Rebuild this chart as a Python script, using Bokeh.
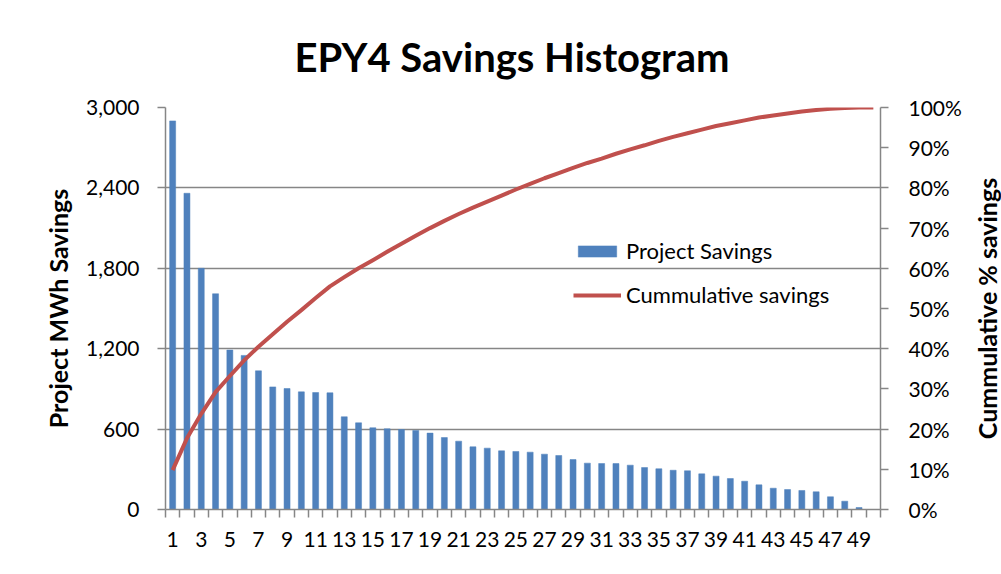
import math
from bokeh.plotting import figure
from bokeh.layouts import row
from bokeh.models import (Range1d, LinearAxis, FixedTicker, NumeralTickFormatter,
                          PrintfTickFormatter, Legend, LegendItem, ColumnDataSource)
from bokeh.core.properties import value
from bokeh.embed import file_html
from bokeh.resources import INLINE

# ---- data ----
projects = list(range(1, 51))
savings = [2900, 2360, 1800, 1610, 1190, 1150, 1035, 915, 903, 878,
           873, 871, 692, 647, 610, 602, 597, 590, 570, 537,
           510, 468, 458, 438, 433, 428, 413, 403, 373, 346,
           343, 343, 331, 313, 304, 293, 289, 266, 249, 231,
           211, 184, 159, 149, 142, 132, 95, 62, 15, 0]
cumulative_pct = [9.8, 17.7, 23.8, 29.2, 33.2, 37.1, 40.5, 43.6, 46.7, 49.6,
                  52.6, 55.5, 57.8, 60.0, 62.0, 64.1, 66.1, 68.1, 70.0, 71.8,
                  73.5, 75.1, 76.6, 78.1, 79.6, 81.0, 82.4, 83.7, 85.0, 86.2,
                  87.3, 88.5, 89.6, 90.6, 91.7, 92.7, 93.6, 94.5, 95.4, 96.1,
                  96.8, 97.5, 98.0, 98.5, 99.0, 99.4, 99.7, 99.9, 100.0, 100.0]
left_ticks = [0, 600, 1200, 1800, 2400, 3000]
right_ticks = [0, 10, 20, 30, 40, 50, 60, 70, 80, 90, 100]
x_tick_labels = list(range(1, 50, 2))
right_axis_title = "Cummulative % savings"

FONT = "Lato"
GRID = "#868686"

src = ColumnDataSource(dict(project=projects, savings=savings, cum=cumulative_pct))
pct_range = Range1d(0, 100)

p = figure(width=971, height=566, output_backend="svg", toolbar_location=None,
           x_range=Range1d(0.5, 50.5), y_range=Range1d(0, 3000),
           min_border_left=165, min_border_right=91, min_border_top=107,
           min_border_bottom=57)
p.extra_y_ranges = {"pct": pct_range}
p.outline_line_color = None
p.background_fill_color = "white"
p.border_fill_color = "white"

p.title.text = "EPY4 Savings Histogram"
p.title.align = "left"
p.title.offset = 129
p.title.text_font = FONT
p.title.text_font_size = "40px"
p.title.text_font_style = "bold"
p.title.text_color = "black"
p.title.standoff = 54

# grid
p.xgrid.visible = False
p.ygrid.ticker = FixedTicker(ticks=left_ticks)
p.ygrid.grid_line_color = GRID
p.ygrid.grid_line_width = 1.5

# left axis
ya = p.yaxis[0]
ya.ticker = FixedTicker(ticks=left_ticks)
ya.formatter = NumeralTickFormatter(format="0,0")
ya.axis_label = "Project MWh Savings"
ya.axis_label_text_font = FONT
ya.axis_label_text_font_style = "bold"
ya.axis_label_text_font_size = "25px"
ya.axis_label_text_color = "black"
ya.axis_label_standoff = 10
ya.major_label_text_font = FONT
ya.major_label_text_font_size = "21px"
ya.major_label_text_color = "black"
ya.major_label_standoff = 18
ya.axis_line_color = GRID
ya.axis_line_width = 1.5
ya.major_tick_line_color = GRID
ya.major_tick_line_width = 1.5
ya.major_tick_out = 8
ya.major_tick_in = 0
ya.minor_tick_line_color = None

# right axis
ra = LinearAxis(y_range_name="pct", ticker=FixedTicker(ticks=right_ticks),
                formatter=PrintfTickFormatter(format="%d%%"))
ra.major_label_text_font = FONT
ra.major_label_text_font_size = "21px"
ra.major_label_text_color = "black"
ra.major_label_standoff = 20
ra.axis_line_color = GRID
ra.axis_line_width = 1.5
ra.major_tick_line_color = GRID
ra.major_tick_line_width = 1.5
ra.major_tick_out = 8
ra.major_tick_in = 0
ra.minor_tick_line_color = None
p.add_layout(ra, "right")

# x axis
xa = p.xaxis[0]
xa.ticker = FixedTicker(ticks=x_tick_labels, minor_ticks=[i + 0.5 for i in range(0, 51)])
xa.major_label_text_font = FONT
xa.major_label_text_font_size = "21px"
xa.major_label_text_color = "black"
xa.major_label_standoff = 14
xa.major_tick_line_color = None
xa.major_tick_out = 8
xa.major_tick_in = 0
xa.minor_tick_line_color = GRID
xa.minor_tick_line_width = 1.5
xa.minor_tick_out = 8
xa.minor_tick_in = 0
xa.axis_line_color = GRID
xa.axis_line_width = 1.5

bars = p.vbar(x="project", top="savings", width=0.42, source=src,
              fill_color="#4F81BD", line_color="#4F81BD", line_width=0.5)
line = p.line(x="project", y="cum", source=src, y_range_name="pct",
              line_color="#C0504D", line_width=4, line_join="round")

legend = Legend(items=[LegendItem(label="Project Savings", renderers=[bars]),
                       LegendItem(label="Cummulative savings", renderers=[line])],
                location=(408, 201))
legend.border_line_color = None
legend.background_fill_alpha = 0
legend.label_text_font = FONT
legend.label_text_font_size = "22px"
legend.label_text_color = "black"
legend.glyph_width = 48
legend.glyph_height = 14
legend.label_height = 22
legend.label_standoff = 5
legend.spacing = 17
legend.padding = 0
legend.margin = 0
p.add_layout(legend)

# narrow companion figure holding the right-hand axis title (reads bottom-to-top)
p2 = figure(width=30, height=566, output_backend="svg", toolbar_location=None,
            x_range=Range1d(0, 1), y_range=pct_range,
            min_border_left=0, min_border_right=0, min_border_top=107,
            min_border_bottom=57)
p2.axis.visible = False
p2.grid.visible = False
p2.outline_line_color = None
p2.background_fill_color = "white"
p2.border_fill_color = "white"
p2.text(x=[0.5], y=[50], text=[right_axis_title], angle=math.pi / 2,
        text_align="center", text_baseline="middle",
        text_font=value(FONT), text_font_size="25px", text_font_style="bold",
        text_color="black")

layout = row(p, p2, spacing=0)
open("out.html", "w").write(file_html(layout, INLINE))
